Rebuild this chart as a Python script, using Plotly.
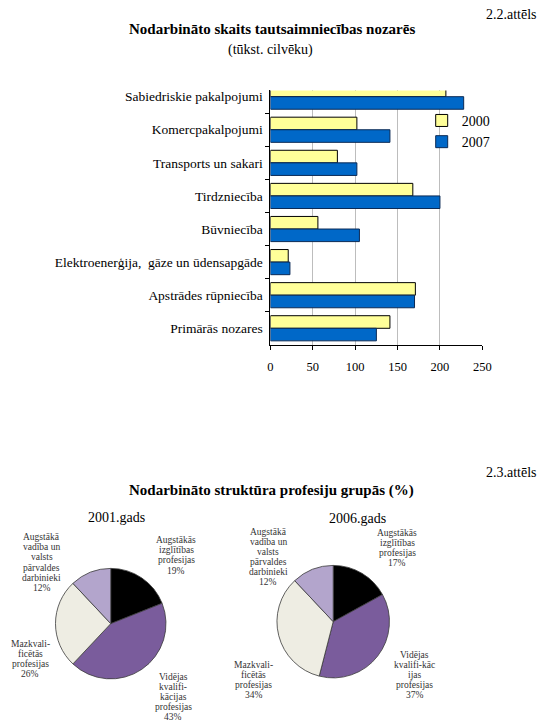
import plotly.graph_objects as go

# The page is photographed in a 550x726 window; the figure div sits 8px in from the body edge.
PAGE_W, PAGE_H = 550, 726
OFF = 8
W, H = PAGE_W - OFF, PAGE_H - OFF
FONT = "Liberation Serif, Times New Roman, DejaVu Serif, serif"

# ---------------- Data: bar chart ----------------
bar_categories = [
    "Sabiedriskie pakalpojumi",
    "Komercpakalpojumi",
    "Transports un sakari",
    "Tirdzniecība",
    "Būvniecība",
    "Elektroenerģija,\u00a0 gāze un ūdensapgāde",
    "Apstrādes rūpniecība",
    "Primārās nozares",
]
values_2000 = [207, 102, 79, 168, 56, 21, 171, 141]
values_2007 = [228, 141, 102, 200, 105, 23, 170, 125]
series_names = ["2000", "2007"]
x_ticks = [0, 50, 100, 150, 200, 250]

# ---------------- Data: pie charts ----------------
pie_labels_2001 = [
    "Augstākās<br>izglītības<br>profesijas",
    "Vidējas<br>kvalifi-<br>kācijas<br>profesijas",
    "Mazkvali-<br>ficētās<br>profesijas",
    "Augstākā<br>vadība un<br>valsts<br>pārvaldes<br>darbinieki",
]
pie_values_2001 = [19, 43, 26, 12]
pie_labels_2006 = [
    "Augstākās<br>izglītības<br>profesijas",
    "Vidējas<br>kvalifi-kāc<br>ijas<br>profesijas",
    "Mazkvali-<br>ficētās<br>profesijas",
    "Augstākā<br>vadība un<br>valsts<br>pārvaldes<br>darbinieki",
]
pie_values_2006 = [17, 37, 34, 12]
pie_titles = ["2001.gads", "2006.gads"]

# ---------------- Styling / layout (page-pixel based) ----------------
def px(x):
    return (x - OFF) / W

def py(y):
    return 1 - (y - OFF) / H

bar_colors = ["#FFFF99", "#0068C8"]
bar_lines = ["#000000", "#0B2A55"]
pie_colors = ["#000000", "#7A5C9C", "#EEEDE3", "#B3A5CC"]

# label anchor: (center x px, first line y px) per slice
label_pos_2001 = [(177, 540), (174, 677), (27.5, 644), (39.5, 537)]
label_pos_2006 = [(403, 532.5), (421, 655), (256, 665), (271, 531.5)]
LINE_H = 10.1

fig = go.Figure()

for name, vals, col, lc in zip(series_names, [values_2000, values_2007], bar_colors, bar_lines):
    fig.add_trace(go.Bar(
        y=bar_categories, x=vals, name=name, orientation="h",
        marker=dict(color=col, line=dict(color=lc, width=1)),
        xaxis="x", yaxis="y",
    ))

pies = [
    (pie_labels_2001, pie_values_2001, (110, 623.5, 56.5)),
    (pie_labels_2006, pie_values_2006, (337.5, 621.5, 57.5)),
]
for labels, vals, (cx, cy, r) in pies:
    fig.add_trace(go.Pie(
        labels=[l.replace("<br>", " ") for l in labels], values=vals,
        domain=dict(x=[px(cx - r), px(cx + r)], y=[py(cy + r), py(cy - r)]),
        marker=dict(colors=pie_colors, line=dict(color="#3A3A3A", width=0.8)),
        sort=False, direction="clockwise", rotation=0,
        textinfo="none", showlegend=False,
    ))

annotations = []

def text(x, y, s, size, bold=False, anchor="center", color="#000000"):
    annotations.append(dict(
        x=px(x), y=py(y), xref="paper", yref="paper", text=(f"<b>{s}</b>" if bold else s),
        showarrow=False, xanchor=anchor, yanchor="middle",
        font=dict(family=FONT, size=size, color=color),
    ))

text(548, 13.5, "2.2.attēls", 14, anchor="right")
text(275, 28.5, "Nodarbināto skaits tautsaimniecības nozarēs", 15, bold=True)
text(273, 49.5, "(tūkst. cilvēku)", 14)

text(548, 472, "2.3.attēls", 14, anchor="right")
text(274, 490, "Nodarbināto struktūra profesiju grupās (%)", 15, bold=True)
text(116, 517, pie_titles[0], 14)
text(362.5, 518, pie_titles[1], 14)

for labels, vals, positions in [
    (pie_labels_2001, pie_values_2001, label_pos_2001),
    (pie_labels_2006, pie_values_2006, label_pos_2006),
]:
    for lab, v, (lx, ly) in zip(labels, vals, positions):
        lines = lab.split("<br>") + [f"{v}%"]
        for i, ln in enumerate(lines):
            text(lx, ly + i * LINE_H, ln, 9.5, color="#333333")

fig.update_layout(
    width=W, height=H,
    margin=dict(l=0, r=0, t=0, b=0),
    paper_bgcolor="white", plot_bgcolor="white",
    barmode="group", bargap=0.24, bargroupgap=0,
    font=dict(family=FONT, color="#000000"),
    xaxis=dict(
        domain=[px(273.3), px(490)], range=[0, 250], tickvals=x_ticks,
        ticks="outside", ticklen=4, tickcolor="#000000",
        showline=True, linecolor="#000000", linewidth=1,
        showgrid=True, gridcolor="#BDBDBD", gridwidth=1, zeroline=False,
        tickfont=dict(family=FONT, size=12.5), ticklabelstandoff=6,
    ),
    yaxis=dict(
        domain=[py(344.3), py(89.5)], type="category",
        categoryorder="array", categoryarray=bar_categories,
        range=[7.5, -0.19], tickson="boundaries",
        ticks="outside", ticklen=4, tickcolor="#000000",
        showline=True, linecolor="#000000", linewidth=1,
        showgrid=False, zeroline=False,
        tickfont=dict(family=FONT, size=13.5), ticklabelstandoff=4,
    ),
    legend=dict(
        x=px(428), y=py(104), xanchor="left", yanchor="top",
        font=dict(family=FONT, size=14), bgcolor="rgba(0,0,0,0)",
        itemwidth=30, tracegroupgap=0,
    ),
    annotations=annotations,
)

fig.write_html("out.html")
